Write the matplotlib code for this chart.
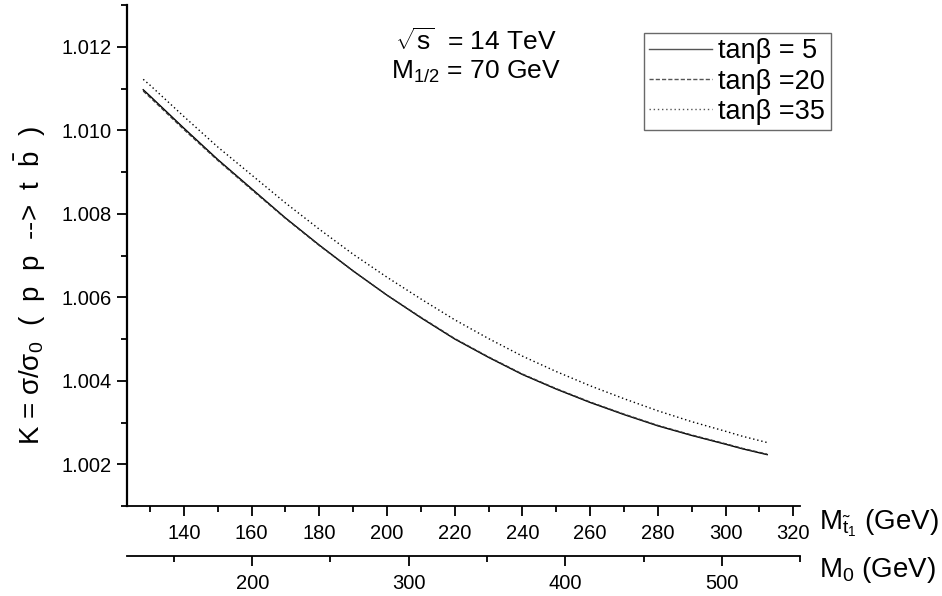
import matplotlib.pyplot as plt

plt.rcParams['font.family'] = ['Liberation Sans', 'DejaVu Sans']
plt.rcParams['mathtext.fontset'] = 'custom'
plt.rcParams['mathtext.rm'] = 'Liberation Sans'
plt.rcParams['mathtext.it'] = 'Liberation Sans:italic'
plt.rcParams['mathtext.sf'] = 'Liberation Sans'

# data
m_stop = [128, 130, 140, 150, 160, 170, 180, 190, 200, 210, 220,
          230, 240, 250, 260, 270, 280, 290, 300, 305, 312.3]
k_tan5 = [1.01097, 1.01082, 1.01005, 1.00930, 1.00860, 1.00790, 1.00725,
          1.00663, 1.00605, 1.00551, 1.00500, 1.00456, 1.00415, 1.00380,
          1.00348, 1.00319, 1.00292, 1.00269, 1.00248, 1.00237, 1.00223]
k_tan20 = [1.01094, 1.01079, 1.01002, 1.00928, 1.00858, 1.00789, 1.00724,
           1.00663, 1.00605, 1.00552, 1.00501, 1.00457, 1.00416, 1.00381,
           1.00349, 1.00320, 1.00293, 1.00270, 1.00249, 1.00238, 1.00224]
k_tan35 = [1.01122, 1.01108, 1.01033, 1.00960, 1.00893, 1.00826, 1.00763,
           1.00703, 1.00648, 1.00596, 1.00546, 1.00501, 1.00459, 1.00422,
           1.00388, 1.00357, 1.00328, 1.00302, 1.00279, 1.00267, 1.00252]

fig = plt.figure(figsize=(9.42, 5.96), dpi=100)
ax = fig.add_axes([0.1348, 0.151, 0.7145, 0.8406])

ax.plot(m_stop, k_tan5, color='black', lw=1.0, ls='-', label='tanβ = 5')
ax.plot(m_stop, k_tan20, color='#333333', lw=1.0, ls=(0, (3, 1.5)), label='tanβ =20')
ax.plot(m_stop, k_tan35, color='black', lw=1.0, ls=(0, (1, 2)), label='tanβ =35')

ax.set_xlim(123.2, 322)
ax.set_ylim(1.001, 1.013)
ax.set_xticks(range(140, 321, 20))
ax.set_xticks(range(130, 321, 10), minor=True)
ax.set_yticks([1.002, 1.004, 1.006, 1.008, 1.010, 1.012])
ax.set_yticks([1.001, 1.003, 1.005, 1.007, 1.009, 1.011, 1.013], minor=True)
ax.yaxis.set_major_formatter(plt.FormatStrFormatter('%.3f'))

for s in ['top', 'right']:
    ax.spines[s].set_visible(False)
ax.spines['left'].set_linewidth(1.6)
ax.spines['bottom'].set_linewidth(1.3)
ax.tick_params(which='major', direction='out', length=7, width=1.3, labelsize=14.5, pad=4)
ax.tick_params(axis='x', which='major', pad=6)
ax.tick_params(which='minor', direction='out', length=4.5, width=1.3)

# y label, a bit below the axes centre as in the reference
fig.text(0.032, 0.522, r'K = σ/σ$_0$  (  p  p  -->  t  $\bar{\rm b}$  )', fontsize=20,
         rotation=90, ha='center', va='center')

# second x axis (M0)
ax2 = ax.twiny()
ax2.set_xlim(120, 550)
ax2.xaxis.set_ticks_position('bottom')
ax2.xaxis.set_label_position('bottom')
ax2.spines['bottom'].set_position(('outward', 36))
for s in ['top', 'right', 'left']:
    ax2.spines[s].set_visible(False)
ax2.spines['bottom'].set_linewidth(1.3)
ax2.set_xticks([200, 300, 400, 500])
ax2.set_xticks([150, 250, 350, 450, 550], minor=True)
ax2.tick_params(which='major', direction='out', length=7, width=1.3, labelsize=14.5, pad=6)
ax2.tick_params(which='minor', direction='out', length=4.5, width=1.3)

fig.text(0.869, 0.122, r'M$_{\tilde{\rm t}_1}$ (GeV)', fontsize=20, ha='left', va='center')
fig.text(0.869, 0.044, r'M$_0$ (GeV)', fontsize=20, ha='left', va='center')

ax.text(0.518, 0.928, r'$\sqrt{\rm s}$  = 14 TeV', transform=ax.transAxes, fontsize=19, ha='center', va='center')
ax.text(0.518, 0.866, r'M$_{1/2}$ = 70 GeV', transform=ax.transAxes, fontsize=19, ha='center', va='center')

leg = ax.legend(loc='upper left', bbox_to_anchor=(0.768, 0.944), fontsize=19.5, frameon=True,
                fancybox=False, edgecolor='#444444', handlelength=2.3, handletextpad=0.25,
                borderpad=0.2, labelspacing=0.15, borderaxespad=0)
leg.get_frame().set_linewidth(1.0)
for line in leg.get_lines():
    line.set_color('#555555')

fig.savefig('out.png', dpi=100)
